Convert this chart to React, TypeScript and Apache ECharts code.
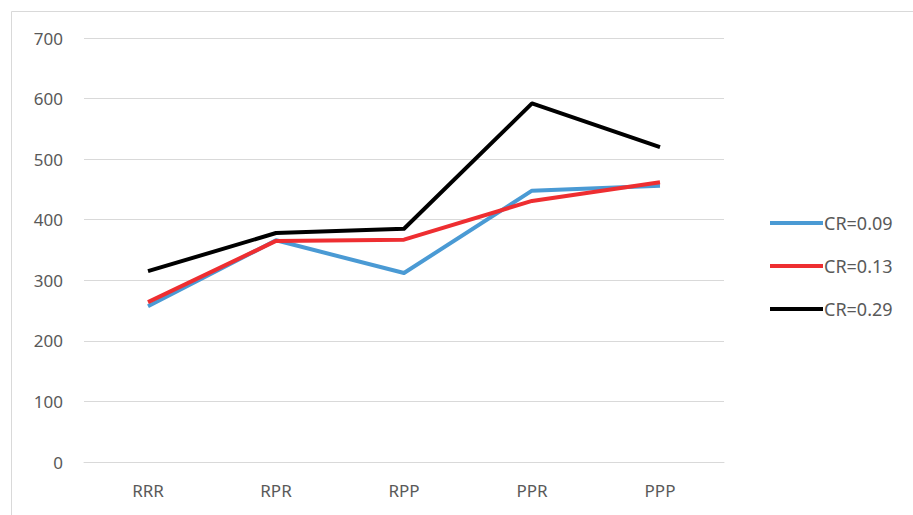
import React, { useEffect, useRef } from "react";
import * as echarts from "echarts";

const categories = ["RRR", "RPR", "RPP", "PPR", "PPP"];
const seriesNames = ["CR=0.09", "CR=0.13", "CR=0.29"];
const cr009 = [257, 366, 312, 448, 456];
const cr013 = [264, 365, 367, 431, 462];
const cr029 = [315, 378, 385, 592, 520];
const colors = ["#4a9ad4", "#ee2e31", "#000000"];

export default function App() {
  const ref = useRef<HTMLDivElement>(null);
  useEffect(() => {
    const chart = echarts.init(ref.current!, null, { renderer: "svg" });
    const font = "'Noto Sans', sans-serif";
    const data = [cr009, cr013, cr029];
    chart.setOption({
      animation: false,
      backgroundColor: "#ffffff",
      graphic: [
        {
          type: "rect",
          shape: { x: 11.5, y: 11.5, width: 920, height: 520 },
          style: { fill: "none", stroke: "#d9d9d9", lineWidth: 1 },
          silent: true,
        },
      ],
      grid: { left: 84, right: 189, top: 38, bottom: 53, containLabel: false },
      legend: {
        orient: "vertical",
        left: 765,
        top: 208,
        itemWidth: 53,
        itemHeight: 4,
        itemGap: 23,
        icon: "rect",
        textStyle: {
          fontFamily: font,
          fontSize: 18,
          lineHeight: 20,
          color: "#595959",
          padding: [0, 0, 0, -4],
        },
        data: seriesNames.map((n, i) => ({ name: n, itemStyle: { color: colors[i] } })),
      },
      xAxis: {
        type: "category",
        data: categories,
        boundaryGap: true,
        axisLine: { lineStyle: { color: "#d9d9d9", width: 1 } },
        axisTick: { show: false },
        axisLabel: { fontFamily: font, fontSize: 17, color: "#595959", margin: 20 },
      },
      yAxis: {
        type: "value",
        min: 0,
        max: 700,
        interval: 100,
        axisLine: { show: false },
        axisTick: { show: false },
        splitLine: { lineStyle: { color: "#d9d9d9", width: 1 } },
        axisLabel: { fontFamily: font, fontSize: 17, color: "#595959", margin: 21 },
      },
      series: data.map((d, i) => ({
        name: seriesNames[i],
        type: "line",
        data: d,
        symbol: "none",
        lineStyle: { color: colors[i], width: 4, join: "round" },
        itemStyle: { color: colors[i] },
      })),
    });
    return () => chart.dispose();
  }, []);
  return (
    <div
      ref={ref}
      style={{ position: "absolute", left: 0, top: 0, width: 913, height: 515 }}
    />
  );
}
